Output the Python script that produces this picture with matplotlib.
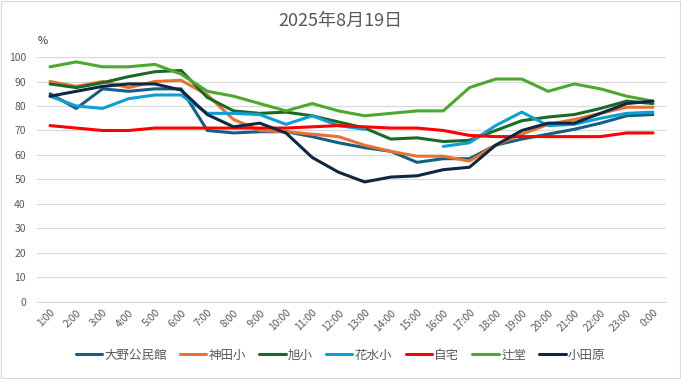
import matplotlib
matplotlib.use("Agg")
import matplotlib.pyplot as plt
import numpy as np

plt.rcParams['font.family'] = ['Noto Sans CJK JP', 'DejaVu Sans']

hours = ["1:00", "2:00", "3:00", "4:00", "5:00", "6:00", "7:00", "8:00", "9:00", "10:00",
         "11:00", "12:00", "13:00", "14:00", "15:00", "16:00", "17:00", "18:00", "19:00",
         "20:00", "21:00", "22:00", "23:00", "0:00"]

oono = [85, 79, 87, 86, 87, 87, 70, 69, 69.5, 69.5, 67.5, 65, 63, 61.5, 57, 58.5,
        58.5, 64, 66.5, 68.5, 70.5, 73, 76, 76.5]
kanda = [90, 88, 90, 87.5, 90, 90.5, 84.5, 74.5, 70, 69.5, 68.5, 67.5, 64, 61.5, 59.5, 59.5,
         57.5, 64, 68.5, 72.5, 74.5, 77, 79.5, 79.5]
asahi = [89, 87.5, 89.5, 92, 94, 94.5, 83.5, 78, 77, 77.5, 76, 73.5, 71, 66.5, 67, 65.5,
         66, 70, 74, 75.5, 76.5, 79, 82, 81]
hanamizu = [84, 80, 79, 83, 84.5, 84.5, 77, 77, 76.5, 72.5, 76, 72, 70.5, np.nan, np.nan, 63.5,
            65, 72, 77.5, 72, 72.5, 75, 77, 77.5]
jitaku = [72, 71, 70, 70, 71, 71, 71, 71, 71, 71, 71.5, 72, 71.5, 71, 71, 70,
          68, 67.5, 67.5, 67.5, 67.5, 67.5, 69, 69]
tsujido = [96, 98, 96, 96, 97, 93, 86, 84, 81, 78, 81, 78, 76, 77, 78, 78,
           87.5, 91, 91, 86, 89, 87, 84, 82]
odawara = [84, 86, 88, 89, 89, 86.5, 76.5, 71.5, 73, 69, 59, 53, 49, 51, 51.5, 54,
           55, 64, 70, 73, 73, 77, 81, 82]

series = [
    ("大野公民館", oono, "#156082"),
    ("神田小", kanda, "#E97132"),
    ("旭小", asahi, "#196B24"),
    ("花水小", hanamizu, "#0F9ED5"),
    ("自宅", jitaku, "#FF0000"),
    ("辻堂", tsujido, "#4EA72E"),
    ("小田原", odawara, "#0E2841"),
]

gray = "#595959"
fig = plt.figure(figsize=(6.81, 3.79), dpi=100)
ax = fig.add_axes([0.0543, 0.2032, 0.9237, 0.6464])

x = np.arange(len(hours))
for name, vals, col in series:
    ax.plot(x, vals, color=col, lw=2.2, label=name, solid_capstyle='round')

ax.set_xlim(-0.5, len(hours) - 0.5)
ax.set_ylim(0, 100)
ax.set_yticks(range(0, 101, 10))
ax.set_xticks(x)
ax.set_xticklabels(hours, rotation=45, ha='right', rotation_mode='anchor')
ax.tick_params(axis='both', length=0, labelsize=7.5, colors=gray)
ax.tick_params(axis='x', pad=4)
ax.tick_params(axis='y', pad=8)
ax.grid(axis='y', color='#D9D9D9', lw=0.9)
ax.set_axisbelow(True)
for s in ['top', 'right', 'left']:
    ax.spines[s].set_visible(False)
ax.spines['bottom'].set_color('#D9D9D9')

# light border around the chart area
fig.patches.append(plt.Rectangle((0.002, 0.003), 0.996, 0.994, transform=fig.transFigure,
                                 fill=False, edgecolor='#D9D9D9', lw=0.8))

fig.text(0.5, 0.945, "2025年8月19日", ha='center', va='center', fontsize=13, color=gray)
fig.text(0.055, 0.893, "%", ha='left', va='center', fontsize=8, color='#333333')

fig.legend(loc='center', bbox_to_anchor=(0.5, 0.063), ncol=7, frameon=False,
           fontsize=9, handlelength=2.1, columnspacing=1.05, handletextpad=0.2,
           labelcolor=gray)

fig.savefig("out.png", dpi=100)
